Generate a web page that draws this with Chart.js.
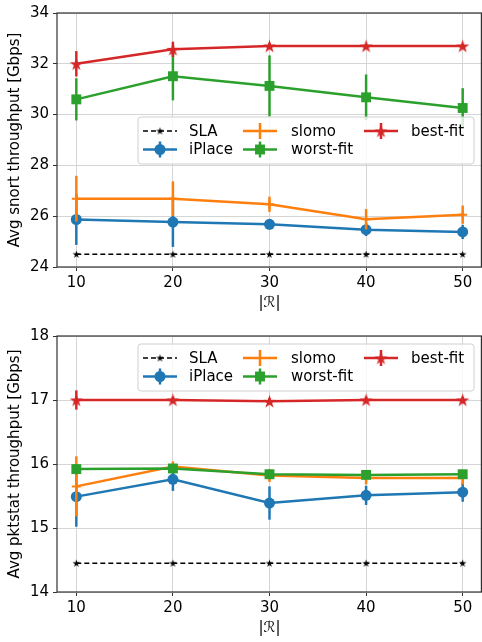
<!DOCTYPE html>
<html>
<head>
<meta charset="utf-8">
<script src="https://cdn.jsdelivr.net/npm/chart.js@4/dist/chart.umd.min.js"></script>
<style>
    html, body { margin: 0; padding: 0; background: #fff; overflow: hidden; }
    .box { position: relative; width: 482px; height: 321px; }
</style>
</head>
<body>
<div class="box"><canvas id="chart-snort"></canvas></div>
<div class="box"><canvas id="chart-pktstat"></canvas></div>
<script>
// x values (|R|) and tick labels
var xValues = [10, 20, 30, 40, 50];
var seriesNames = ['SLA', 'iPlace', 'slomo', 'worst-fit', 'best-fit'];

// snort throughput [Gbps]
var snortSla = [24.5, 24.5, 24.5, 24.5, 24.5];
var snortIplace = [25.87, 25.77, 25.68, 25.47, 25.38];
var snortIplaceErr = [1.0, 0.98, 0.2, 0.25, 0.28];
var snortSlomo = [26.69, 26.69, 26.47, 25.88, 26.06];
var snortSlomoErr = [0.9, 0.68, 0.3, 0.4, 0.36];
var snortWorst = [30.60, 31.51, 31.13, 30.68, 30.26];
var snortWorstErr = [0.83, 0.95, 1.2, 0.9, 0.78];
var snortBest = [32.0, 32.57, 32.70, 32.70, 32.70];
var snortBestErr = [0.5, 0.3, 0.12, 0.08, 0.08];
var snortTicks = [24, 26, 28, 30, 32, 34];

// pktstat throughput [Gbps]
var pktSla = [14.45, 14.45, 14.45, 14.45, 14.45];
var pktIplace = [15.49, 15.76, 15.39, 15.51, 15.56];
var pktIplaceErr = [0.47, 0.18, 0.26, 0.15, 0.15];
var pktSlomo = [15.65, 15.96, 15.82, 15.78, 15.78];
var pktSlomoErr = [0.47, 0.08, 0.1, 0.1, 0.1];
var pktWorst = [15.92, 15.93, 15.84, 15.83, 15.84];
var pktWorstErr = [0.08, 0.05, 0.05, 0.05, 0.05];
var pktBest = [17.0, 17.0, 16.98, 17.0, 17.0];
var pktBestErr = [0.15, 0.05, 0.05, 0.05, 0.05];
var pktTicks = [14, 15, 16, 17, 18];

var COLORS = {
    'SLA': '#000000',
    'iPlace': '#1f77b4',
    'slomo': '#ff7f0e',
    'worst-fit': '#2ca02c',
    'best-fit': '#d62728',
};
var FONT = "'DejaVu Sans', sans-serif";

/**
 * Filled five-pointed star marker as a small canvas (like matplotlib '*').
 */
function makeStar(color, size) {
    var c = document.createElement('canvas');
    c.width = size; c.height = size;
    var ctx = c.getContext('2d');
    var r = size / 2 - 0.5, ri = r * 0.382, cx = size / 2, cy = size / 2 + r * 0.08;
    ctx.beginPath();
    for (var i = 0; i < 10; i++) {
        var rr = (i % 2 === 0) ? r : ri;
        var a = -Math.PI / 2 + i * Math.PI / 5;
        var px = cx + rr * Math.cos(a), py = cy + rr * Math.sin(a);
        if (i === 0) ctx.moveTo(px, py); else ctx.lineTo(px, py);
    }
    ctx.closePath();
    ctx.fillStyle = color;
    ctx.fill();
    return c;
}

var MARKERS = {
    'SLA': { style: makeStar('#000', 9), radius: 4 },
    'iPlace': { style: 'circle', radius: 5.5 },
    'slomo': { style: 'cross', radius: 4.5 },
    'worst-fit': { style: 'rect', radius: 7 },
    'best-fit': { style: makeStar(COLORS['best-fit'], 15), radius: 7 },
};

function makeDataset(name, values, errors) {
    var m = MARKERS[name];
    return {
        label: name,
        data: values.map(function (v, i) { return { x: xValues[i], y: v }; }),
        errors: errors || null,
        borderColor: COLORS[name],
        backgroundColor: COLORS[name],
        borderWidth: name === 'SLA' ? 1.5 : 2.5,
        borderDash: name === 'SLA' ? [5, 3] : [],
        pointStyle: m.style,
        pointRadius: m.radius,
        pointBorderWidth: name === 'slomo' ? 2 : 0,
        pointHoverRadius: m.radius,
        tension: 0,
        fill: false,
        clip: false,
    };
}

/**
 * Vertical error bars, drawn just before each dataset's line.
 */
var errorBarPlugin = {
    id: 'errorBars',
    beforeDatasetDraw: function (chart, args) {
        var ds = chart.data.datasets[args.index];
        if (!ds.errors) return;
        var xs = chart.scales.x, ys = chart.scales.y, ctx = chart.ctx;
        ctx.save();
        ctx.strokeStyle = ds.borderColor;
        ctx.lineWidth = 2.5;
        ds.data.forEach(function (p, i) {
            var px = xs.getPixelForValue(p.x);
            ctx.beginPath();
            ctx.moveTo(px, ys.getPixelForValue(p.y - ds.errors[i]));
            ctx.lineTo(px, ys.getPixelForValue(p.y + ds.errors[i]));
            ctx.stroke();
        });
        ctx.restore();
    },
};

/**
 * Axes frame (all four spines) and a matplotlib-like legend in 3 columns.
 */
var framePlugin = {
    id: 'frameLegend',
    afterDatasetsDraw: function (chart, args, opts) {
        var a = chart.chartArea, ctx = chart.ctx;
        ctx.save();
        ctx.strokeStyle = '#333';
        ctx.lineWidth = 1.2;
        ctx.strokeRect(a.left, a.top, a.right - a.left - 0.6, a.bottom - a.top);

        // legend box
        var bx = a.right - 8 - 336, by = a.top + opts.top, bw = 336, bh = 47;
        ctx.fillStyle = 'rgba(255,255,255,0.8)';
        ctx.strokeStyle = '#d0d0d0';
        ctx.lineWidth = 1;
        ctx.beginPath();
        ctx.roundRect(bx, by, bw, bh, 3);
        ctx.fill();
        ctx.stroke();

        var cols = [[5, 51], [105, 153], [226, 273]];
        var rows = [14, 32.5];
        ctx.font = '15px ' + FONT;
        ctx.textBaseline = 'middle';
        seriesNames.forEach(function (name, i) {
            var col = cols[Math.floor(i / 2)], row = rows[i % 2];
            var x0 = bx + col[0], y0 = by + row, len = 34, mx = x0 + len / 2;
            ctx.strokeStyle = COLORS[name];
            ctx.fillStyle = COLORS[name];
            ctx.lineWidth = name === 'SLA' ? 1.5 : 2.5;
            ctx.setLineDash(name === 'SLA' ? [5, 3] : []);
            ctx.beginPath();
            ctx.moveTo(x0, y0);
            ctx.lineTo(x0 + len, y0);
            ctx.stroke();
            ctx.setLineDash([]);
            if (name !== 'SLA') {
                ctx.beginPath();
                ctx.moveTo(mx, y0 - 8);
                ctx.lineTo(mx, y0 + 8);
                ctx.stroke();
            }
            var m = MARKERS[name];
            ctx.lineWidth = name === 'slomo' ? 2 : 0;
            Chart.helpers.drawPoint(ctx, {
                pointStyle: m.style, radius: m.radius, borderWidth: name === 'slomo' ? 2 : 0,
                rotation: 0,
            }, mx, y0);
            ctx.fillStyle = '#000';
            ctx.fillText(name, bx + col[1], y0 + 1);
        });
        ctx.restore();
    },
};

function buildChart(canvasId, sets, yMin, yMax, yTicks, yTitle, layout) {
    var canvas = document.getElementById(canvasId);
    // reversed so that best-fit ends up on top (matplotlib plotting order)
    var datasets = sets.slice().reverse();
    return new Chart(canvas, {
        type: 'line',
        data: { datasets: datasets },
        plugins: [errorBarPlugin, framePlugin],
        options: {
            responsive: true,
            maintainAspectRatio: false,
            animation: false,
            layout: {
                autoPadding: false,
                padding: { top: layout.padTop, right: 0, bottom: 0, left: 0 },
            },
            plugins: {
                legend: { display: false },
                tooltip: { enabled: false },
                frameLegend: { top: layout.legendTop },
            },
            scales: {
                x: {
                    type: 'linear',
                    min: 8,
                    max: 52,
                    afterBuildTicks: function (s) { s.ticks = xValues.map(function (v) { return { value: v }; }); },
                    afterFit: function (s) { s.height = layout.xHeight; },
                    ticks: { font: { family: FONT, size: 15 }, color: '#000', padding: 3, maxRotation: 0 },
                    grid: { color: '#d5d5d5', lineWidth: 1, tickLength: 4, tickColor: '#333', tickWidth: 1 },
                    border: { display: false },
                    title: {
                        display: true, text: '|ℛ|', color: '#000',
                        font: { family: FONT, size: 15 }, padding: { top: 0, bottom: layout.xTitlePad },
                    },
                },
                y: {
                    min: yMin,
                    max: yMax,
                    afterBuildTicks: function (s) { s.ticks = yTicks.map(function (v) { return { value: v }; }); },
                    afterFit: function (s) { s.width = 57; },
                    ticks: { font: { family: FONT, size: 15 }, color: '#000', padding: 4 },
                    grid: { color: '#d5d5d5', lineWidth: 1, tickLength: 4, tickColor: '#333', tickWidth: 1 },
                    border: { display: false },
                    title: {
                        display: true, text: yTitle, color: '#000',
                        font: { family: FONT, size: 15 }, padding: { top: 6, bottom: 0 },
                    },
                },
            },
        },
    });
}

buildChart('chart-snort', [
    makeDataset('SLA', snortSla),
    makeDataset('iPlace', snortIplace, snortIplaceErr),
    makeDataset('slomo', snortSlomo, snortSlomoErr),
    makeDataset('worst-fit', snortWorst, snortWorstErr),
    makeDataset('best-fit', snortBest, snortBestErr),
], 24, 34, snortTicks, 'Avg snort throughput [Gbps]',
    { padTop: 11, xHeight: 54, xTitlePad: 9, legendTop: 104 });

buildChart('chart-pktstat', [
    makeDataset('SLA', pktSla),
    makeDataset('iPlace', pktIplace, pktIplaceErr),
    makeDataset('slomo', pktSlomo, pktSlomoErr),
    makeDataset('worst-fit', pktWorst, pktWorstErr),
    makeDataset('best-fit', pktBest, pktBestErr),
], 14, 18, pktTicks, 'Avg pktstat throughput [Gbps]',
    { padTop: 15, xHeight: 50, xTitlePad: 5, legendTop: 8 });
</script>
</body>
</html>
